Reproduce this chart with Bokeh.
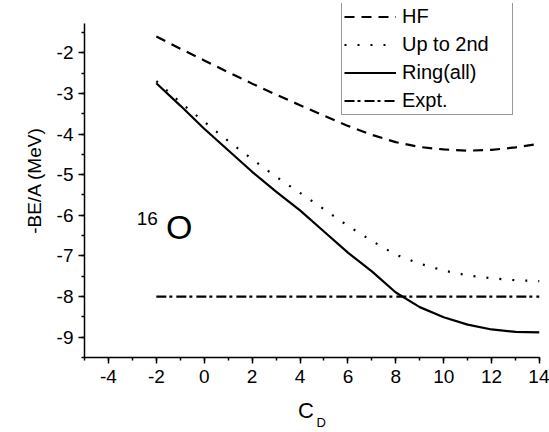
from bokeh.plotting import figure
from bokeh.models import (Range1d, SingleIntervalTicker, Legend, LegendItem, Label,
                          CustomJSTickFormatter, Title)
from bokeh.embed import file_html
from bokeh.resources import INLINE

# ---- data ----
cd = [-2, -1, 0, 1, 2, 3, 4, 5, 6, 7, 8, 9, 10, 11, 12, 13, 14]
hf = [-1.60, -1.90, -2.19, -2.48, -2.76, -3.03, -3.29, -3.55, -3.80, -4.02,
      -4.20, -4.32, -4.38, -4.41, -4.39, -4.33, -4.24]
up2 = [-2.70, -3.22, -3.70, -4.17, -4.62, -5.05, -5.45, -5.85, -6.26, -6.63,
       -6.97, -7.19, -7.36, -7.48, -7.55, -7.60, -7.62]
ring = [-2.75, -3.30, -3.87, -4.40, -4.93, -5.42, -5.88, -6.40, -6.92, -7.38,
        -7.90, -8.26, -8.51, -8.69, -8.81, -8.87, -8.88]
expt_x = [-2, 14]
expt_y = [-8.0, -8.0]
series_names = ["HF", "Up to 2nd", "Ring(all)", "Expt."]
y_axis_span = (-9.5, -1.28)

FONT = "Liberation Sans"

p = figure(width=549, height=432, output_backend="svg", toolbar_location=None,
           x_range=Range1d(-5, 14), y_range=Range1d(-9.5, -0.788),
           min_border_left=84, min_border_right=10, min_border_top=3,
           min_border_bottom=75)
p.outline_line_color = None
p.grid.visible = False
p.background_fill_color = "white"
p.border_fill_color = "white"

fmt = CustomJSTickFormatter(code="return String(Math.round(tick));")
for ax in (p.xaxis[0], p.yaxis[0]):
    ax.formatter = fmt
    ax.axis_line_color = "black"
    ax.axis_line_width = 1.5
    ax.major_tick_line_color = "black"
    ax.minor_tick_line_color = "black"
    ax.major_tick_line_width = 1.5
    ax.minor_tick_line_width = 1.5
    ax.major_tick_out = 6
    ax.major_tick_in = 0
    ax.minor_tick_out = 3
    ax.minor_tick_in = 0
    ax.major_label_text_font = FONT
    ax.major_label_text_font_size = "19px"
    ax.major_label_text_color = "black"
    ax.major_label_standoff = 5
    ax.axis_label_text_font = FONT
    ax.axis_label_text_font_style = "normal"
    ax.axis_label_text_color = "black"

p.yaxis[0].bounds = y_axis_span
p.xaxis[0].major_label_standoff = 6
p.xaxis[0].ticker = SingleIntervalTicker(interval=2, num_minor_ticks=2)
p.yaxis[0].ticker = SingleIntervalTicker(interval=1, num_minor_ticks=2)
p.yaxis[0].axis_label = "-BE/A (MeV)"
p.yaxis[0].axis_label_text_font_size = "19px"
p.yaxis[0].axis_label_standoff = 9

# x-axis label "C" with subscript "D"
p.xaxis[0].axis_label = "C  "
p.xaxis[0].axis_label_text_font_size = "22px"
p.xaxis[0].axis_label_standoff = 12
sub = Title(text="D", align="left", offset=232, vertical_align="top",
            standoff=-21, text_font=FONT, text_font_size="13px",
            text_font_style="normal", text_color="black")
p.add_layout(sub, "below")

r_hf = p.line(cd, hf, line_color="black", line_width=2.2, line_dash="10 7")
r_up = p.line(cd, up2, line_color="black", line_width=2.2, line_dash="2 11")
r_ring = p.line(cd, ring, line_color="black", line_width=2.2)
r_ex = p.line(expt_x, expt_y, line_color="black", line_width=2.2, line_dash="10 3 3 4")

legend = Legend(items=[LegendItem(label=series_names[0], renderers=[r_hf]),
                       LegendItem(label=series_names[1], renderers=[r_up]),
                       LegendItem(label=series_names[2], renderers=[r_ring]),
                       LegendItem(label=series_names[3], renderers=[r_ex])],
                location=(257, 242))
legend.label_text_font = FONT
legend.label_text_font_size = "20px"
legend.label_text_color = "black"
legend.glyph_width = 52
legend.glyph_height = 19
legend.label_height = 19
legend.label_width = 108
legend.label_standoff = 6
legend.spacing = 5
legend.padding = 2
legend.margin = 0
legend.border_line_color = "#333333"
legend.border_line_width = 1
legend.background_fill_alpha = 1
p.add_layout(legend, "center")

# nucleus annotation
p.add_layout(Label(x=-2.82, y=-6.07, text="16", text_font=FONT,
                   text_font_size="19px", text_baseline="alphabetic", text_color="black"))
p.add_layout(Label(x=-1.6, y=-6.30, text="O", text_font=FONT,
                   text_font_size="34px", text_baseline="alphabetic", text_color="black"))

open("out.html", "w").write(file_html(p, INLINE))
